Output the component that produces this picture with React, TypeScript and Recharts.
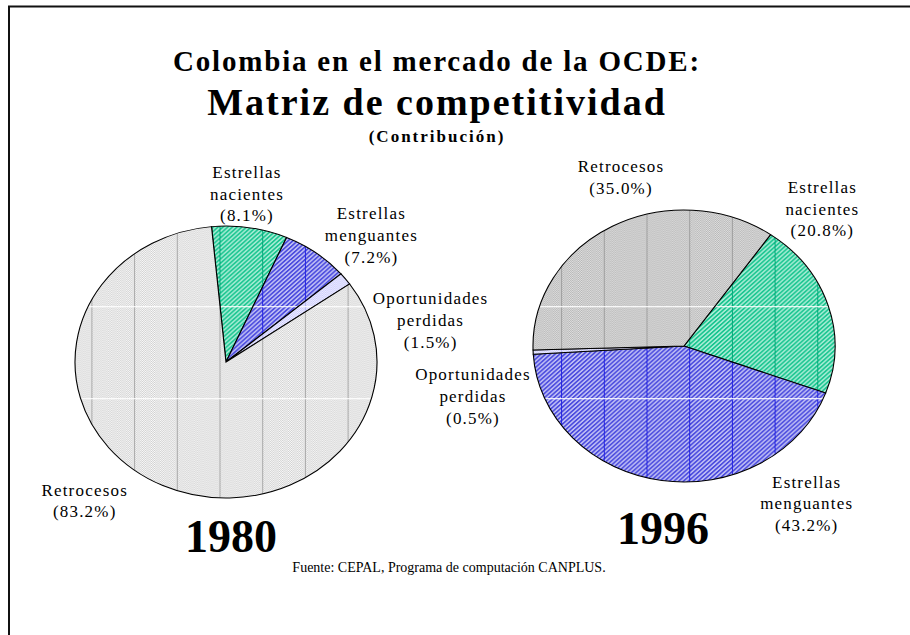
import React from 'react';
import { PieChart, Pie, Cell } from 'recharts';

// Contribución por categoría (%)
const categories = ['Estrellas nacientes', 'Estrellas menguantes', 'Oportunidades perdidas', 'Retrocesos'];
const share1980 = [8.1, 7.2, 1.5, 83.2];
const share1996 = [20.8, 43.2, 0.5, 35.0];
const years = ['1980', '1996'];
const shares = [share1980, share1996];

const W = 910;
const H = 635;
const R = 136;
const SX = 151 / 136; // the pies are slightly wider than tall
const SERIF = "'Liberation Serif', 'Times New Roman', serif";

// layout (page px)
const CENTERS = [
  { x: 226, y: 362 },
  { x: 684, y: 346 },
];
const START = [95.5, 55];
const LABEL_OFFSETS = [
  [[21, -168.5], [145.4, -127], [204.6, -42], [-141.3, 138.5]],
  [[138.4, -137.5], [122.7, 157.5], [-211, 50], [-63, -168.8]],
];
const FILLS = [
  ['green', 'blue', 'lav', 'greyLight'],
  ['green', 'blue', 'lav', 'grey'],
];

const hatches = [
  { id: 'green', dark: '#16c48e', light: '#b2efda', line: '#00a878', diag: true },
  { id: 'blue', dark: '#4a4ade', light: '#c6c6f6', line: '#2020e0', diag: true },
  { id: 'lav', dark: '#c8c8fc', light: '#f2f2ff', line: '#b4b4f0', diag: false },
  { id: 'greyLight', dark: '#d0d0d0', light: '#fafafa', line: '#a8a8a8', diag: false },
  { id: 'grey', dark: '#b6b6b6', light: '#e0e0e0', line: '#9e9e9e', diag: false },
];

const TILE = 42.7 / SX;

const Defs = () => (
  <svg width={0} height={0} style={{ position: 'absolute' }}>
    <defs>
      {hatches.map((h) =>
        h.diag ? (
          <pattern key={'h' + h.id} id={'h-' + h.id} width={3} height={3} patternUnits="userSpaceOnUse" patternTransform="rotate(45)">
            <rect width={3} height={3} fill={h.light} />
            <rect width={1.6} height={3} fill={h.dark} />
          </pattern>
        ) : (
          <pattern key={'h' + h.id} id={'h-' + h.id} width={2} height={2} patternUnits="userSpaceOnUse">
            <rect width={2} height={2} fill={h.light} />
            <rect width={1} height={1} fill={h.dark} />
            <rect x={1} y={1} width={1} height={1} fill={h.dark} />
          </pattern>
        )
      )}
      {hatches.map((h) => (
        <pattern key={'f' + h.id} id={'f-' + h.id} x={6 / SX} y={0} width={TILE} height={H} patternUnits="userSpaceOnUse">
          <rect width={TILE} height={H} fill={`url(#h-${h.id})`} />
          <rect x={0} y={0} width={0.9} height={H} fill={h.line} />
          <rect x={0} y={306} width={TILE} height={1.3} fill="#fff" opacity={0.85} />
          <rect x={0} y={398} width={TILE} height={1.3} fill="#fff" opacity={0.85} />
        </pattern>
      ))}
    </defs>
  </svg>
);

const renderLabel = (yi: number) => (p: any) => {
  const [ox, oy] = LABEL_OFFSETS[yi][p.index];
  const x = p.cx + ox / SX;
  const y = p.cy + oy;
  const lines = [...String(p.name).split(' '), `(${Number(p.value).toFixed(1)}%)`];
  const n = lines.length;
  return (
    <text
      transform={`translate(${x} ${y}) scale(${1 / SX} 1)`}
      textAnchor="middle"
      fontFamily={SERIF}
      fontSize={17}
      letterSpacing={1.2}
      fill="#000"
    >
      {lines.map((l, i) => (
        <tspan key={i} x={0} y={(i - (n - 1) / 2) * 22 + 6}>
          {l}
        </tspan>
      ))}
    </text>
  );
};

export default function App() {
  return (
    <div style={{ position: 'absolute', left: 0, top: 0, width: W, height: H, overflow: 'hidden', background: '#fff' }}>
      <Defs />
      <div
        style={{
          position: 'absolute',
          left: 0,
          top: 0,
          width: W / SX,
          height: H,
          transform: `scaleX(${SX})`,
          transformOrigin: '0 0',
        }}
      >
        <PieChart width={W / SX} height={H} margin={{ top: 0, right: 0, bottom: 0, left: 0 }}>
          {years.map((yr, yi) => (
            <Pie
              key={yr}
              data={categories.map((c, i) => ({ name: c, value: shares[yi][i] }))}
              dataKey="value"
              nameKey="name"
              cx={CENTERS[yi].x / SX}
              cy={CENTERS[yi].y}
              outerRadius={R}
              startAngle={START[yi]}
              endAngle={START[yi] - 360}
              stroke="#000"
              strokeWidth={1}
              label={renderLabel(yi)}
              labelLine={false}
              isAnimationActive={false}
            >
              {categories.map((c, i) => (
                <Cell key={c} fill={`url(#f-${FILLS[yi][i]})`} />
              ))}
            </Pie>
          ))}
        </PieChart>
      </div>
      <svg width={W} height={H} style={{ position: 'absolute', left: 0, top: 0, pointerEvents: 'none' }}>
        <path d="M 9 700 V 6.5 H 920" fill="none" stroke="#111" strokeWidth={2} />
        <g fontFamily={SERIF} fontWeight="bold" textAnchor="middle" fill="#000">
          <text x={437} y={71} fontSize={29} letterSpacing={1.8}>
            Colombia en el mercado de la OCDE:
          </text>
          <text x={437} y={115} fontSize={38} letterSpacing={2}>
            Matriz de competitividad
          </text>
          <text x={437} y={142} fontSize={17} letterSpacing={2}>
            (Contribución)
          </text>
          <text x={231} y={552} fontSize={46}>
            {years[0]}
          </text>
          <text x={663} y={544} fontSize={46}>
            {years[1]}
          </text>
        </g>
        <text x={449} y={572} fontFamily={SERIF} fontSize={14} textAnchor="middle" fill="#000">
          Fuente: CEPAL, Programa de computación CANPLUS.
        </text>
      </svg>
    </div>
  );
}
